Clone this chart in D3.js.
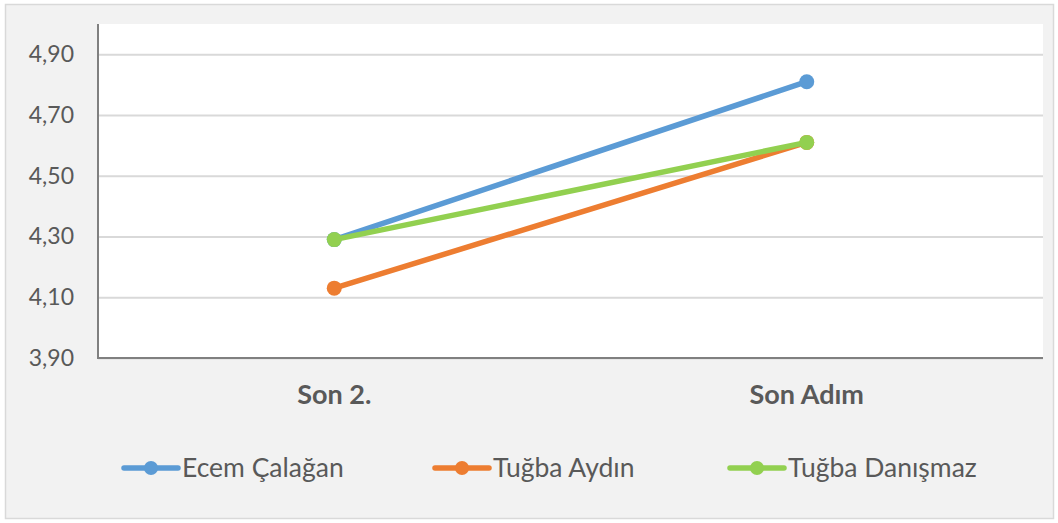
<!DOCTYPE html>
<html><head><meta charset="utf-8">
<script src="https://cdn.jsdelivr.net/npm/d3@7"></script>
<style>body{margin:0;background:#fff;}svg{display:block;}</style>
</head><body><svg id="c" width="1058" height="523"></svg>
<script>
const categories = ["Son 2.", "Son Adım"];
const seriesNames = ["Ecem Çalağan", "Tuğba Aydın", "Tuğba Danışmaz"];
const ecem = [4.29, 4.81];
const aydin = [4.13, 4.61];
const danismaz = [4.29, 4.61];
const yTicks = [3.9, 4.1, 4.3, 4.5, 4.7, 4.9];
const colors = ["#5b9bd5", "#ed7d31", "#92d050"];

const series = [ecem, aydin, danismaz].map((v, i) => ({name: seriesNames[i], values: v, color: colors[i]}));
const svg = d3.select("#c");
const font = "Lato, 'Open Sans', sans-serif";
svg.append("rect").attr("x", 5.5).attr("y", 4.5).attr("width", 1048).attr("height", 514)
  .attr("fill", "#f2f2f2").attr("stroke", "#d9d9d9").attr("stroke-width", 1.5);

const L = 98, R = 1043, T = 24, B = 358;
svg.append("rect").attr("x", L).attr("y", T).attr("width", R - L).attr("height", B - T).attr("fill", "#fff");

const x = d3.scaleBand().domain(categories).range([L, R]);
const y = d3.scaleLinear().domain([3.9, 5.0]).range([B, T]);

const fmt = v => d3.format(".2f")(v).replace(".", ",");
const ya = svg.append("g").attr("transform", `translate(${L},0)`)
  .call(d3.axisLeft(y).tickValues(yTicks).tickSize(-(R - L)).tickFormat(fmt).tickPadding(24));
ya.select(".domain").remove();
ya.selectAll(".tick line").attr("stroke", "#d9d9d9").attr("stroke-width", 2);
ya.selectAll(".tick text").attr("fill", "#595959").style("font-family", font).style("font-size", "23px");

const xa = svg.append("g").attr("transform", `translate(0,${B})`)
  .call(d3.axisBottom(x).tickSize(0).tickPadding(27));
xa.select(".domain").remove();
xa.selectAll(".tick text").attr("fill", "#595959").style("font-family", font).style("font-size", "27px").style("font-weight", "bold");

svg.append("line").attr("x1", L).attr("x2", L).attr("y1", T).attr("y2", B + 1).attr("stroke", "#808080").attr("stroke-width", 2);
svg.append("line").attr("x1", L - 1).attr("x2", R).attr("y1", B).attr("y2", B).attr("stroke", "#808080").attr("stroke-width", 2);

const line = d3.line().x((d, i) => x(categories[i]) + x.bandwidth() / 2).y(d => y(d));
series.forEach(s => {
  svg.append("path").datum(s.values).attr("d", line).attr("fill", "none")
    .attr("stroke", s.color).attr("stroke-width", 5.5).attr("stroke-linecap", "round");
  svg.selectAll(null).data(s.values).enter().append("circle")
    .attr("cx", (d, i) => x(categories[i]) + x.bandwidth() / 2).attr("cy", d => y(d))
    .attr("r", 7.5).attr("fill", s.color);
});

const legX = [124, 435, 730];
series.forEach((s, i) => {
  const g = svg.append("g").attr("transform", `translate(${legX[i]},468)`);
  g.append("line").attr("x1", 0).attr("x2", 54).attr("stroke", s.color).attr("stroke-width", 5.5).attr("stroke-linecap", "round");
  g.append("circle").attr("cx", 27).attr("r", 7).attr("fill", s.color);
  g.append("text").attr("x", 58).attr("y", 0).attr("dy", "0.35em").attr("fill", "#595959")
    .style("font-family", font).style("font-size", "26.5px").text(s.name);
});
</script></body></html>
